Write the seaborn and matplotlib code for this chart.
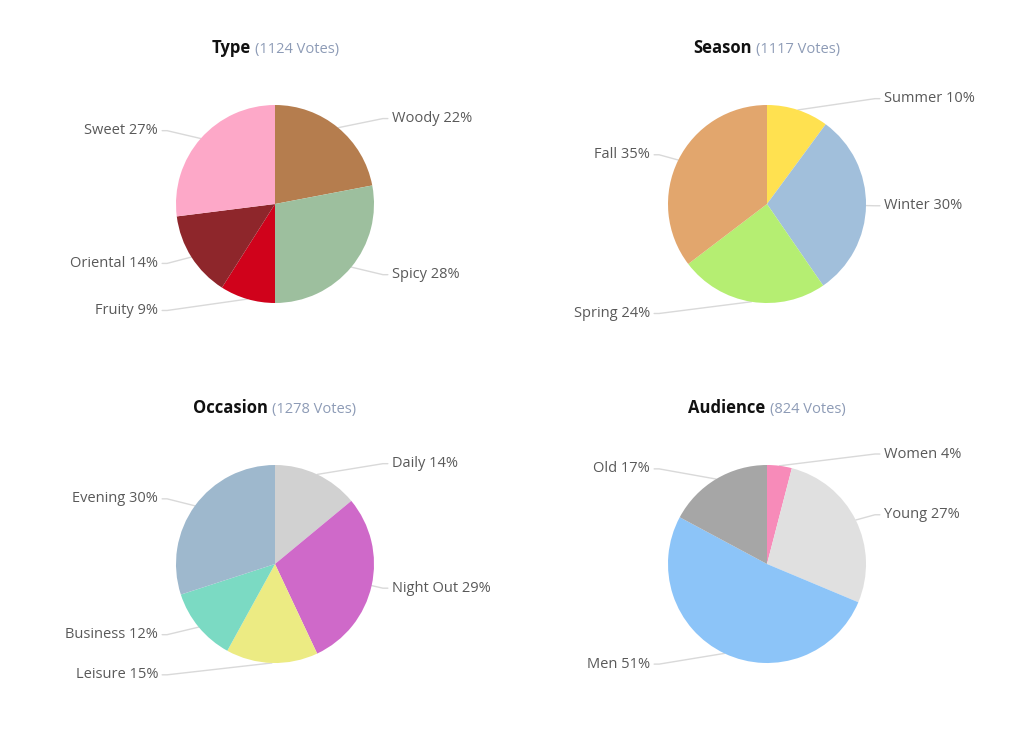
import numpy as np
import matplotlib
matplotlib.use("Agg")
import matplotlib.pyplot as plt
import seaborn as sns

# ── Data ────────────────────────────────────────────────────────────────────────
type_labels   = ["Woody", "Spicy", "Fruity", "Oriental", "Sweet"]
type_values   = [22, 28, 9, 14, 27]
type_votes    = 1124

season_labels = ["Summer", "Winter", "Spring", "Fall"]
season_values = [10, 30, 24, 35]
season_votes  = 1117

occasion_labels = ["Daily", "Night Out", "Leisure", "Business", "Evening"]
occasion_values = [14, 29, 15, 12, 30]
occasion_votes  = 1278

audience_labels = ["Women", "Young", "Men", "Old"]
audience_values = [4, 27, 51, 17]
audience_votes  = 824

# ── Styles ──────────────────────────────────────────────────────────────────────
type_colors     = ["#b57d4e", "#9dbf9e", "#d0021b", "#8e262b", "#fda8c8"]
season_colors   = ["#ffe150", "#a1bfdb", "#b5ee72", "#e2a66d"]
occasion_colors = ["#d1d1d1", "#cf69c9", "#eceb83", "#7bdac3", "#9eb8cd"]
audience_colors = ["#f78bb9", "#e0e0e0", "#8cc4f8", "#a6a6a6"]

LABEL_COLOR = "#595959"
VOTES_COLOR = "#8d9bb6"
LINE_COLOR  = "#d9d9d9"

sns.set_theme(style="white")
plt.rcParams["font.family"] = ["Open Sans", "DejaVu Sans"]

W, H = 1024, 739
DPI = 100
R_PX = 99          # pie radius in pixels
AX_W, AX_H = 440, 340

fig = plt.figure(figsize=(W / DPI, H / DPI), dpi=DPI)
fig.patch.set_facecolor("white")


def draw_pie(cx, cy, name, votes, labels, values, colors):
    ax = fig.add_axes([(cx - AX_W / 2) / W, 1 - (cy + AX_H / 2) / H, AX_W / W, AX_H / H])
    wedges, _ = ax.pie(values, colors=colors, startangle=90, counterclock=False,
                       radius=1, wedgeprops=dict(linewidth=0))
    ax.set_xlim(-AX_W / 2 / R_PX, AX_W / 2 / R_PX)
    ax.set_ylim(-AX_H / 2 / R_PX, AX_H / 2 / R_PX)
    ax.set_aspect("equal")
    ax.axis("off")

    for w, lab, v in zip(wedges, labels, values):
        mid = np.deg2rad((w.theta1 + w.theta2) / 2)
        ex, ey = np.cos(mid), np.sin(mid)
        side = 1 if ex >= 0 else -1
        ly = 1.12 * ey
        ax.plot([ex, side * 1.09, side * 1.14], [ey, ly, ly],
                color=LINE_COLOR, lw=1, solid_capstyle="round", zorder=0)
        ax.text(side * 1.18, ly, f"{lab} {v}%",
                ha="left" if side > 0 else "right", va="center",
                fontsize=10.5, color=LABEL_COLOR)

    # two-part title, centred above the pie
    yb = 1.525
    t1 = ax.text(0, yb, name, fontsize=12, weight="bold", color="#111111",
                 ha="left", va="baseline")
    t2 = ax.text(0, yb, f"({votes} Votes)", fontsize=10.5, color=VOTES_COLOR,
                 ha="left", va="baseline")
    fig.canvas.draw()
    w1 = t1.get_window_extent().width
    w2 = t2.get_window_extent().width
    gap = 4
    x0 = -(w1 + gap + w2) / 2 / R_PX
    t1.set_x(x0)
    t2.set_x(x0 + (w1 + gap) / R_PX)


draw_pie(275, 204, "Type", type_votes, type_labels, type_values, type_colors)
draw_pie(767, 204, "Season", season_votes, season_labels, season_values, season_colors)
draw_pie(275, 564, "Occasion", occasion_votes, occasion_labels, occasion_values, occasion_colors)
draw_pie(767, 564, "Audience", audience_votes, audience_labels, audience_values, audience_colors)

plt.savefig("out.png", dpi=DPI, facecolor="white")
